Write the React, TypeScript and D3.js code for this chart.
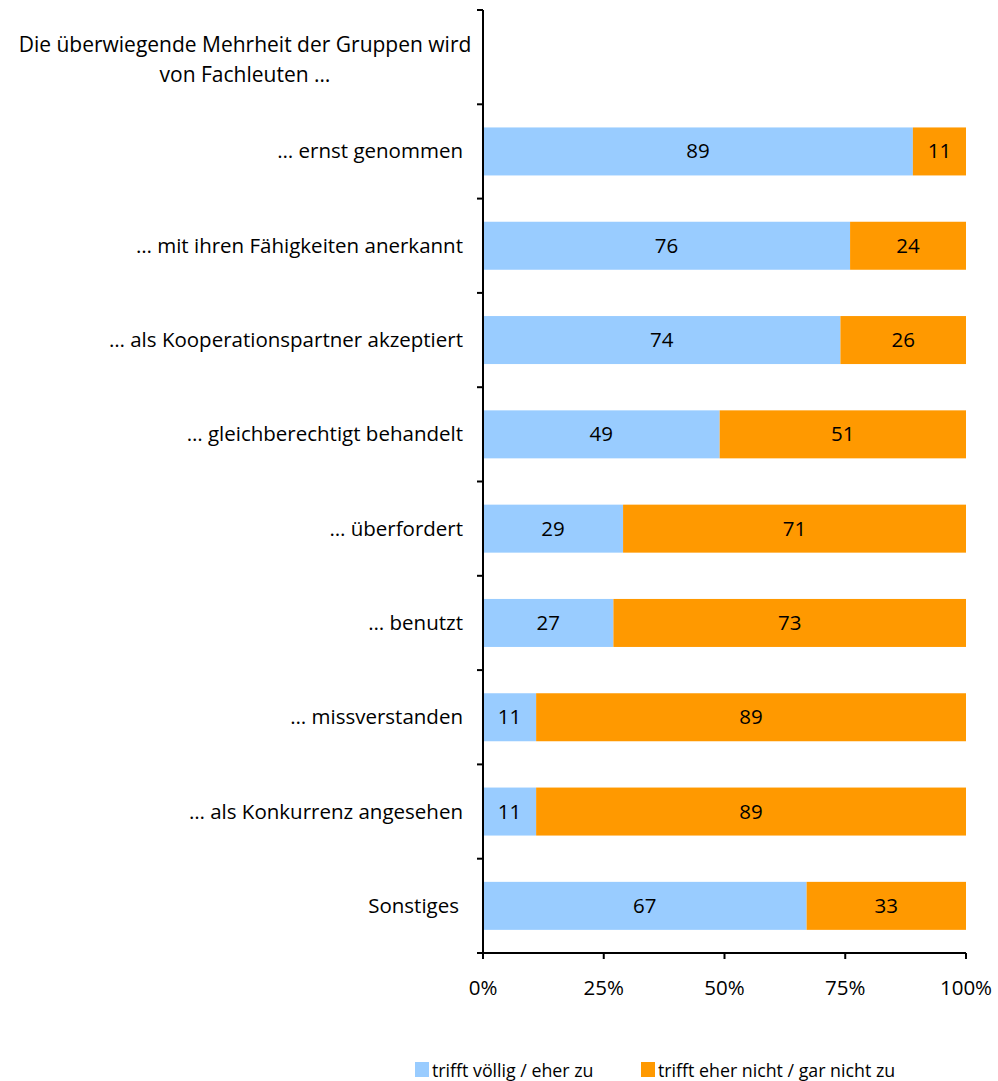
import React from "react";
import * as d3 from "d3";

const categories = [
  "… ernst genommen",
  "… mit ihren Fähigkeiten anerkannt",
  "… als Kooperationspartner akzeptiert",
  "… gleichberechtigt behandelt",
  "… überfordert",
  "… benutzt",
  "… missverstanden",
  "… als Konkurrenz angesehen",
  "Sonstiges",
];
const agree = [89, 76, 74, 49, 29, 27, 11, 11, 67];
const disagree = [11, 24, 26, 51, 71, 73, 89, 89, 33];
const seriesNames = ["trifft völlig / eher zu", "trifft eher nicht / gar nicht zu"];
const colors = ["#99CCFF", "#FF9900"];
const xTicks = [0, 25, 50, 75, 100];
const headerLines = ["Die überwiegende Mehrheit der Gruppen wird", "von Fachleuten …"];

const W = 998;
const H = 1081;
const FONT = "'Open Sans', sans-serif";

export default function App() {
  const left = 483;
  const right = 966;
  const top = 10;
  const bottom = 953;
  const rows = ["__header__", ...categories];
  const y = d3.scaleBand<string>().domain(rows).range([top, bottom]).paddingInner(0).paddingOuter(0);
  const x = d3.scaleLinear().domain([0, 100]).range([left, right]);
  const barH = 48;
  const bw = y.bandwidth();
  const fs = 20.5;

  return (
    <svg width={W} height={H} style={{ display: "block", position: "absolute", left: 0, top: 0 }} fontFamily={FONT}>
      <text x={245} textAnchor="middle" fontSize={21} fill="#000">
        {headerLines.map((l, i) => (
          <tspan key={i} x={245} y={52 + i * 30}>{l}</tspan>
        ))}
      </text>
      {categories.map((c, i) => {
        const yc = (y(c) as number) + bw / 2;
        const x0 = x(0);
        const x1 = x(agree[i]);
        const x2 = x(agree[i] + disagree[i]);
        return (
          <g key={c}>
            <rect x={x0} y={yc - barH / 2} width={x1 - x0} height={barH} fill={colors[0]} />
            <rect x={x1} y={yc - barH / 2} width={x2 - x1} height={barH} fill={colors[1]} />
            <text x={(x0 + x1) / 2} y={yc + 7} textAnchor="middle" fontSize={fs}>{agree[i]}</text>
            <text x={(x1 + x2) / 2} y={yc + 7} textAnchor="middle" fontSize={fs}>{disagree[i]}</text>
            <text x={c === "Sonstiges" ? 459 : 463} y={yc + 7} textAnchor="end" fontSize={fs}>{c}</text>
          </g>
        );
      })}
      <line x1={left} x2={left} y1={top} y2={bottom} stroke="#000" strokeWidth={2} />
      {rows.map((r) => (
        <line key={r} x1={left - 6} x2={left} y1={y(r) as number} y2={y(r) as number} stroke="#000" strokeWidth={2} />
      ))}
      <line x1={left - 6} x2={left} y1={bottom} y2={bottom} stroke="#000" strokeWidth={2} />
      <line x1={left} x2={right} y1={bottom} y2={bottom} stroke="#000" strokeWidth={2} />
      {xTicks.map((t) => (
        <g key={t}>
          <line x1={x(t)} x2={x(t)} y1={bottom} y2={bottom + 6} stroke="#000" strokeWidth={2} />
          <text x={x(t)} y={bottom + 42} textAnchor="middle" fontSize={fs}>{t}%</text>
        </g>
      ))}
      {seriesNames.map((s, i) => {
        const lx = i === 0 ? 415 : 641;
        return (
          <g key={s}>
            <rect x={lx} y={1062} width={14} height={15} fill={colors[i]} />
            <text x={lx + 17} y={1077} fontSize={17.8}>{s}</text>
          </g>
        );
      })}
    </svg>
  );
}
